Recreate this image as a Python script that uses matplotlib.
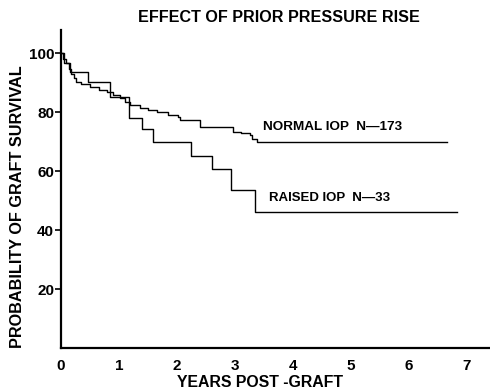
import matplotlib
matplotlib.use("Agg")
import matplotlib.pyplot as plt

plt.rcParams['font.family'] = ['Liberation Sans', 'DejaVu Sans']
plt.rcParams['font.weight'] = 'bold'

# curva de supervivencia - IOP normal (N=173)
normal_x = [0, 0.03, 0.08, 0.14, 0.17, 0.22, 0.26, 0.35, 0.5, 0.65, 0.79, 0.9,
            1.02, 1.1, 1.19, 1.36, 1.5, 1.66, 1.85, 2.02, 2.05, 2.4, 2.97, 3.1,
            3.26, 3.3, 3.38, 6.66]
normal_y = [100, 98, 96.6, 94.5, 93, 91.5, 90.2, 89.5, 88.5, 87.5, 86.8, 85.8,
            84.7, 83.5, 82.4, 81.4, 80.7, 80, 79, 78.3, 77.3, 74.9, 73.2, 72.8,
            72.2, 71.0, 69.8, 69.8]

# curva de supervivencia - IOP elevada (N=33)
raised_x = [0, 0.05, 0.155, 0.46, 0.845, 1.18, 1.39, 1.58, 2.25, 2.6, 2.94, 3.34, 6.83]
raised_y = [100, 96.5, 93.7, 90.2, 85.2, 77.9, 74.1, 69.9, 65.1, 60.6, 53.6, 46.1, 46.1]

x_ticks = [0, 1, 2, 3, 4, 5, 6, 7]
y_ticks = [20, 40, 60, 80, 100]

fig = plt.figure(figsize=(4.9, 3.91), dpi=100)
ax = fig.add_axes([0.1245, 0.11, 0.8755, 0.813])

ax.step(normal_x, normal_y, where='post', color='black', lw=1.0)
ax.step(raised_x, raised_y, where='post', color='black', lw=1.0)

ax.set_xlim(0, 7.4)
ax.set_ylim(0, 107.8)

for s in ['top', 'right']:
    ax.spines[s].set_visible(False)
for s in ['left', 'bottom']:
    ax.spines[s].set_linewidth(1.6)

ax.set_xticks(x_ticks)
ax.set_yticks(y_ticks)
ax.tick_params(axis='y', direction='out', length=4, width=1.2, labelsize=11, pad=1)
ax.tick_params(axis='x', length=0, labelsize=11, pad=8)

ax.text(3.48, 74.9, "NORMAL IOP  N\u2014173", fontsize=9.7, va='center', ha='left')
ax.text(3.59, 50.8, "RAISED IOP  N\u201433", fontsize=9.5, va='center', ha='left')

fig.text(0.569, 0.954, "EFFECT OF PRIOR PRESSURE RISE", fontsize=11.6,
         fontweight='bold', ha='center', va='center')
fig.text(0.531, 0.023, "YEARS POST -GRAFT", fontsize=11.4,
         fontweight='bold', ha='center', va='center')
fig.text(0.035, 0.471, "PROBABILITY OF GRAFT SURVIVAL", fontsize=11.7,
         fontweight='bold', ha='center', va='center', rotation=90)

fig.savefig("out.png", dpi=100)
